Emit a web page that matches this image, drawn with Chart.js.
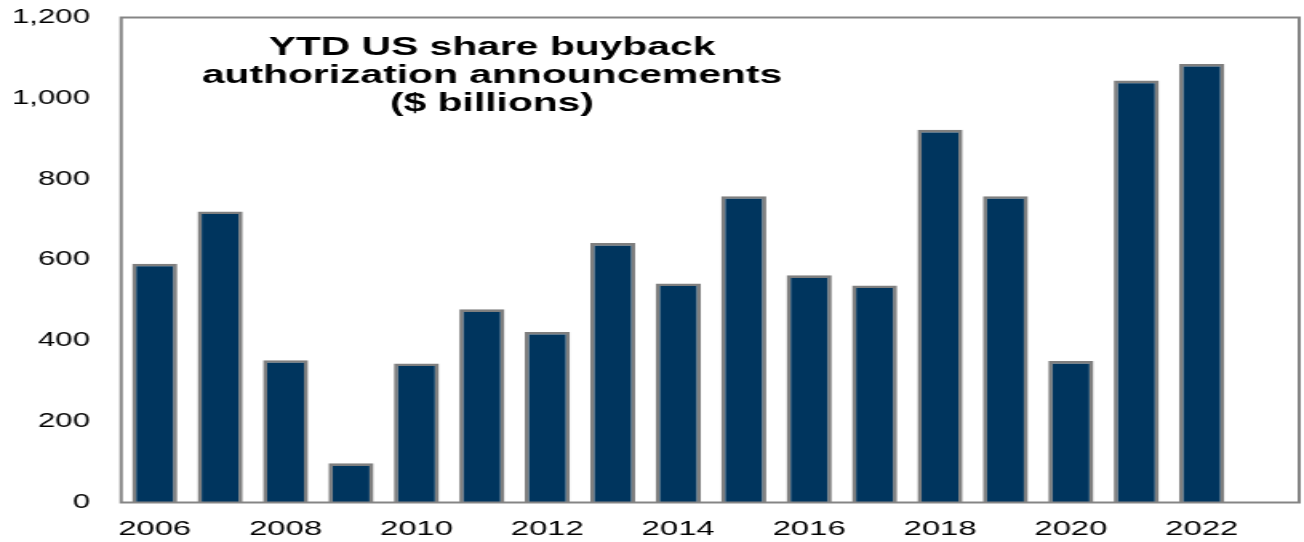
<!DOCTYPE html>
<html>
<head>
<meta charset="utf-8">
<script src="https://cdn.jsdelivr.net/npm/chart.js@4.4.1/dist/chart.umd.min.js"></script>
<style>
  html, body { margin: 0; padding: 0; background: #fff; overflow: hidden; }
  /* the chart is laid out narrow and widened horizontally */
  #wrap { width: 815px; height: 542px; transform: scaleX(1.6); transform-origin: 0 0; }
  #c { display: block; }
</style>
</head>
<body>
<div id="wrap"><canvas id="c" width="815" height="542"></canvas></div>
<script>
// Years on the category axis (2023 is an empty slot at the right edge)
const years = ['2006','2007','2008','2009','2010','2011','2012','2013','2014',
               '2015','2016','2017','2018','2019','2020','2021','2022','2023'];
// YTD US share buyback authorization announcements, $ billions
const buybacks = [591, 720, 352, 97, 344, 478, 422, 642, 542,
                  758, 562, 537, 922, 758, 350, 1044, 1085, null];
// Value axis ticks
const yTickValues = [0, 200, 400, 600, 800, 1000, 1200];
// Title lines shown inside the plot
const titleLines = ['YTD US share buyback', 'authorization announcements', '($ billions)'];

const FONT = '"Liberation Sans", Arial, Helvetica, sans-serif';
const FRAME = '#858585';

const framePlugin = {
  id: 'frame',
  afterDraw(chart) {
    const { ctx, chartArea: a } = chart;
    ctx.save();
    ctx.strokeStyle = FRAME;
    ctx.lineWidth = 2;
    ctx.strokeRect(a.left - 0.5, a.top, a.right - a.left, a.bottom - a.top);
    ctx.restore();
  }
};

const titlePlugin = {
  id: 'insideTitle',
  afterDraw(chart) {
    const { ctx } = chart;
    ctx.save();
    ctx.fillStyle = '#000';
    ctx.font = 'bold 25.5px ' + FONT;
    ctx.textAlign = 'center';
    ctx.textBaseline = 'alphabetic';
    titleLines.forEach((t, i) => ctx.fillText(t, 307.5, 55 + i * 28.2));
    ctx.restore();
  }
};

new Chart(document.getElementById('c'), {
  type: 'bar',
  data: {
    labels: years,
    datasets: [{
      data: buybacks,
      backgroundColor: '#00355E',
      borderColor: '#7F7F7F',
      borderWidth: 2.6,
      borderSkipped: 'start',
      categoryPercentage: 1,
      barPercentage: 0.69
    }]
  },
  options: {
    responsive: false,
    animation: false,
    devicePixelRatio: 1,
    locale: 'en-US',
    layout: { padding: { top: 17.5, right: 2.5, left: 0, bottom: 0 } },
    plugins: { legend: { display: false }, tooltip: { enabled: false }, title: { display: false } },
    scales: {
      x: {
        grid: { display: false, drawTicks: false },
        border: { display: false },
        ticks: {
          autoSkip: false,
          maxRotation: 0,
          padding: 15,
          color: '#000',
          font: { family: FONT, size: 20.5 },
          callback: (v, i) => (i % 2 === 0 ? years[i] : '')
        },
        afterFit: s => { s.height = 39.5; s.paddingLeft = 0; s.paddingRight = 0; }
      },
      y: {
        min: 0,
        max: 1200,
        grid: { display: false, drawTicks: false },
        border: { display: false },
        afterBuildTicks: s => { s.ticks = yTickValues.map(v => ({ value: v })); },
        ticks: {
          padding: 20,
          color: '#000',
          font: { family: FONT, size: 19.5 },
          callback: v => Number(v).toLocaleString('en-US')
        },
        afterFit: s => { s.width = 76.25; s.paddingTop = 0; s.paddingBottom = 0; }
      }
    }
  },
  plugins: [framePlugin, titlePlugin]
});
</script>
</body>
</html>
